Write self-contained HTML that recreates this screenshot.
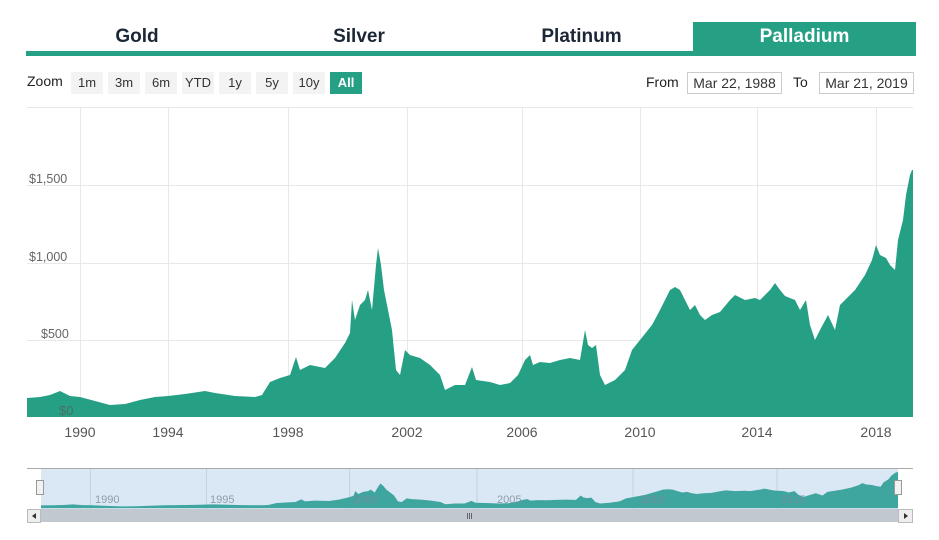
<!DOCTYPE html>
<html><head><meta charset="utf-8"><style>
body{margin:0;width:939px;height:540px;background:#fff;font-family:"Liberation Sans",sans-serif;overflow:hidden;position:relative}
.tab{position:absolute;top:22px;height:30px;line-height:30px;text-align:center;font-size:19px;font-weight:bold;color:#1b2735}
.btn{position:absolute;top:72px;height:22px;line-height:22px;background:#f3f3f3;font-size:13px;color:#333;text-align:center}
</style></head><body>
<div style="position:absolute;left:26px;top:51px;width:890px;height:5px;background:#26a085"></div>
<div style="position:absolute;left:693px;top:22px;width:223px;height:34px;background:#26a085"></div>
<div class="tab" style="left:26px;width:222px">Gold</div>
<div class="tab" style="left:248px;width:222px">Silver</div>
<div class="tab" style="left:470px;width:223px">Platinum</div>
<div class="tab" style="left:693px;width:223px;color:#fff">Palladium</div>
<div style="position:absolute;left:27px;top:73px;font-size:14px;color:#222">Zoom</div>
<div class="btn" style="left:71px;width:32px">1m</div>
<div class="btn" style="left:108px;width:32px">3m</div>
<div class="btn" style="left:145px;width:32px">6m</div>
<div class="btn" style="left:182px;width:32px">YTD</div>
<div class="btn" style="left:219px;width:32px">1y</div>
<div class="btn" style="left:256px;width:32px">5y</div>
<div class="btn" style="left:293px;width:32px">10y</div>
<div class="btn" style="left:330px;width:32px;background:#26a085;color:#fff;font-weight:bold">All</div>
<div style="position:absolute;left:646px;top:74px;font-size:14px;color:#222">From</div>
<div style="position:absolute;left:687px;top:72px;width:93px;height:20px;border:1px solid #ccc;font-size:14px;line-height:20px;text-align:center;color:#333">Mar 22, 1988</div>
<div style="position:absolute;left:793px;top:74px;font-size:14px;color:#222">To</div>
<div style="position:absolute;left:819px;top:72px;width:93px;height:20px;border:1px solid #ccc;font-size:14px;line-height:20px;text-align:center;color:#333">Mar 21, 2019</div>
<svg width="939" height="540" style="position:absolute;left:0;top:0">
<defs>
<polygon id="main" points="27,417 27,398 40,397 50,395 60,391 70,396 80,397 95,401 110,405 125,404 140,400 155,397 168,396 185,394 205,391 215,393 235,396 255,397 262,395 270,382 280,378 290,375 296,357 300,370 310,365 325,368 335,358 345,343 350,333 352,300 355,320 360,305 365,300 368,290 372,310 376,265 378,248 381,265 384,290 388,310 392,330 396,370 400,375 405,350 410,355 420,358 430,365 440,375 445,390 455,385 465,385 472,367 476,380 490,382 500,385 510,383 518,375 525,360 530,355 533,365 540,362 550,363 560,360 570,358 580,360 585,330 588,345 592,348 596,345 600,375 605,385 615,380 625,370 632,350 640,340 648,330 652,325 660,310 665,300 670,290 675,287 680,290 685,300 690,310 695,305 700,315 705,320 712,315 720,312 730,300 735,295 745,300 755,298 760,300 770,290 775,283 780,290 785,296 795,300 800,310 806,300 810,325 815,340 820,330 828,315 835,330 840,305 845,300 855,290 865,275 872,260 876,245 880,255 886,258 890,265 895,270 898,240 903,220 906,195 910,175 912,170 913,170 913,417"/>
</defs>
<g stroke="#e8e8e8" stroke-width="1">
<line x1="27" y1="107.5" x2="913" y2="107.5"/>
<line x1="27" y1="185.5" x2="913" y2="185.5"/>
<line x1="27" y1="263.5" x2="913" y2="263.5"/>
<line x1="27" y1="340.5" x2="913" y2="340.5"/>
<line x1="80.5" y1="107" x2="80.5" y2="417"/><line x1="168.5" y1="107" x2="168.5" y2="417"/><line x1="288.5" y1="107" x2="288.5" y2="417"/><line x1="407.5" y1="107" x2="407.5" y2="417"/><line x1="522.5" y1="107" x2="522.5" y2="417"/><line x1="640.5" y1="107" x2="640.5" y2="417"/><line x1="757.5" y1="107" x2="757.5" y2="417"/><line x1="876.5" y1="107" x2="876.5" y2="417"/>
</g>
<g font-size="12.5" fill="#666">
<text x="29" y="183">$1,500</text><text x="29" y="261">$1,000</text><text x="41" y="338">$500</text>
</g>
<use href="#main" fill="#26a085"/>
<text x="59" y="415" font-size="13" fill="#4b6f66">$0</text>
<g font-size="14" fill="#555" text-anchor="middle">
<text x="80" y="437">1990</text><text x="168" y="437">1994</text><text x="288" y="437">1998</text><text x="407" y="437">2002</text><text x="522" y="437">2006</text><text x="640" y="437">2010</text><text x="757" y="437">2014</text><text x="876" y="437">2018</text>
</g>
<line x1="27" y1="468.5" x2="913" y2="468.5" stroke="#aaa"/>
<rect x="41" y="469" width="857" height="40" fill="#dae7f5"/>
<g stroke="#c8d2dc"><line x1="90.5" y1="469" x2="90.5" y2="509"/><line x1="206.5" y1="469" x2="206.5" y2="509"/><line x1="349.5" y1="469" x2="349.5" y2="509"/><line x1="477" y1="469" x2="477" y2="509"/><line x1="633" y1="469" x2="633" y2="509"/><line x1="777" y1="469" x2="777" y2="509"/></g>
<use href="#main" transform="translate(41,447.3) scale(0.9673,0.146) translate(-27,0)" fill="#3fa59f"/>
<g font-size="11" fill="#7a8a99" opacity="0.8">
<text x="95" y="503">1990</text><text x="210" y="503">1995</text><text x="353" y="503">2000</text><text x="497" y="503">2005</text><text x="640" y="503">2010</text><text x="781" y="503">2015</text>
</g>
<rect x="27" y="509" width="886" height="13" fill="#c2c8d0"/>
<rect x="27.5" y="509.5" width="13" height="13" fill="#eee" stroke="#bbb"/>
<rect x="898.5" y="509.5" width="14" height="13" fill="#eee" stroke="#bbb"/>
<path d="M36,513 L32,516 L36,519Z" fill="#333"/><path d="M904,513 L908,516 L904,519Z" fill="#333"/>
<g stroke="#666"><line x1="467.5" y1="513" x2="467.5" y2="519"/><line x1="469.5" y1="513" x2="469.5" y2="519"/><line x1="471.5" y1="513" x2="471.5" y2="519"/></g>
<rect x="36.5" y="480.5" width="7" height="14" fill="#f2f2f2" stroke="#999"/>
<rect x="894.5" y="480.5" width="7" height="14" fill="#f2f2f2" stroke="#999"/>
</svg>
</body></html>
